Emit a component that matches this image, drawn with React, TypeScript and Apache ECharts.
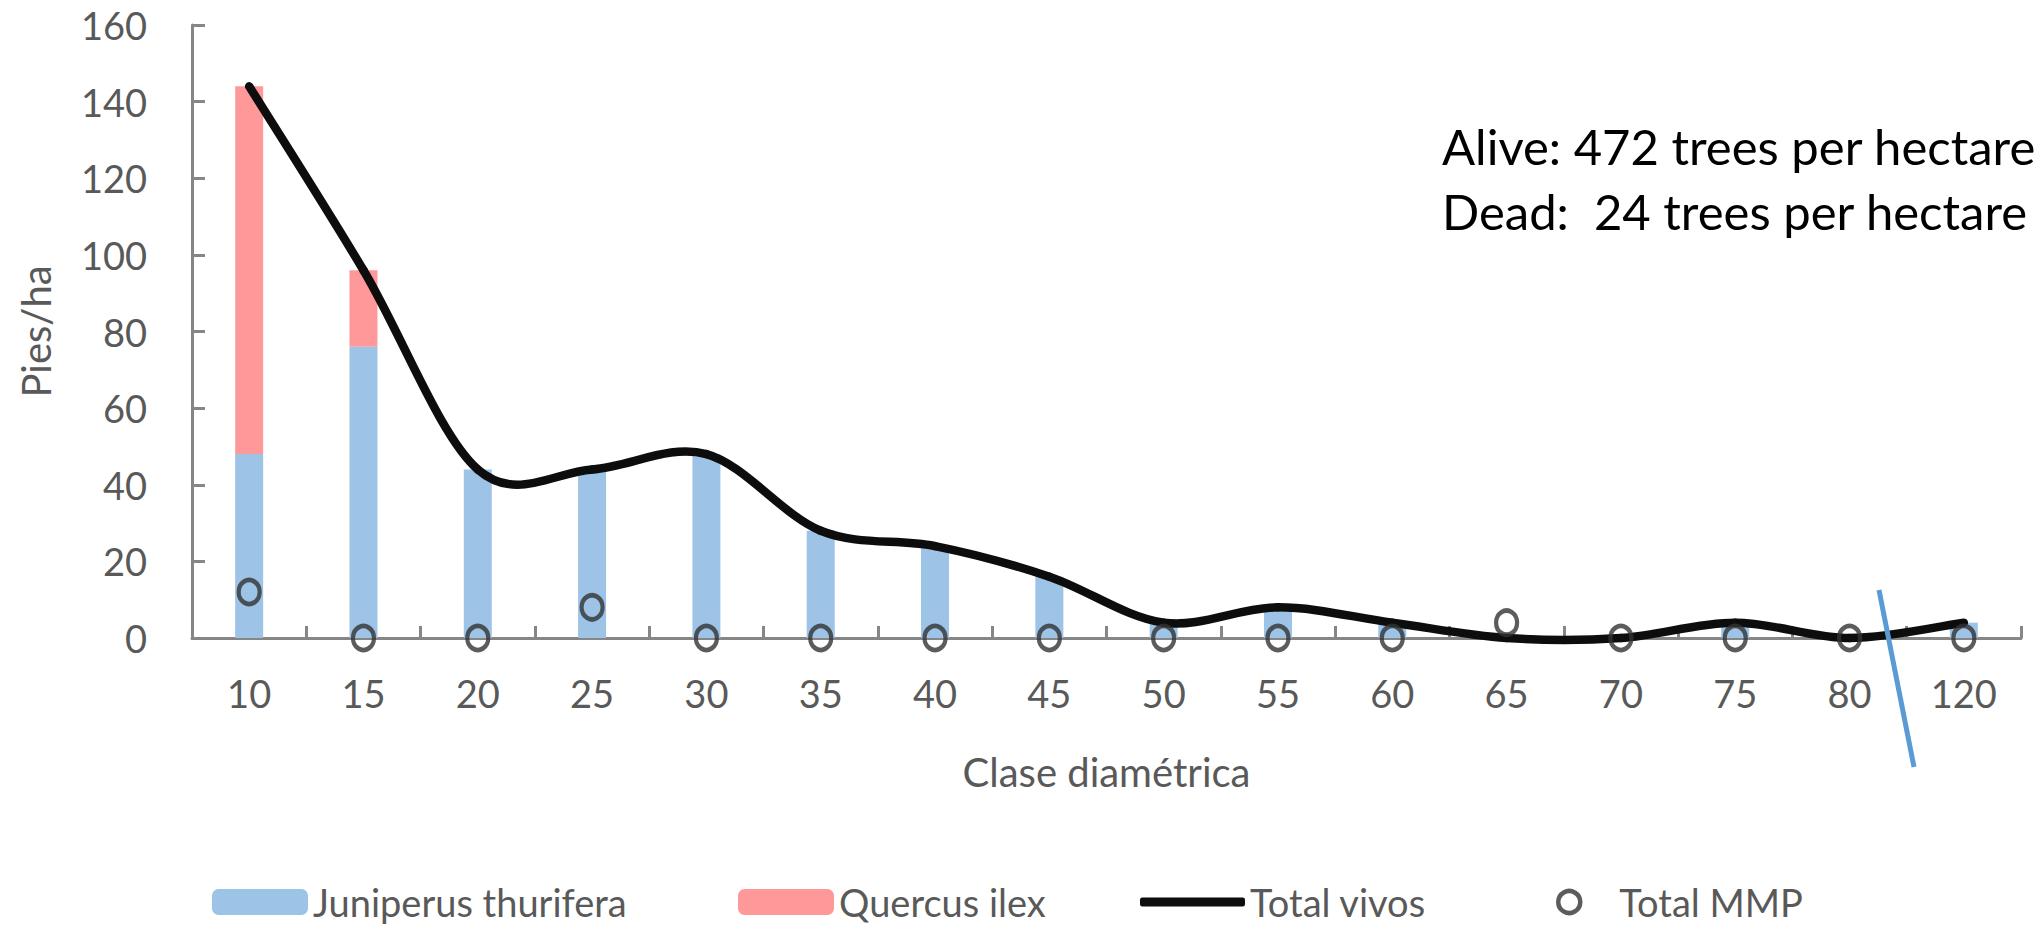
import React, { useEffect, useRef } from "react";
import * as echarts from "echarts";

const categories = ["10", "15", "20", "25", "30", "35", "40", "45", "50", "55", "60", "65", "70", "75", "80", "120"];
const juniperus = [48, 76, 44, 44, 48, 28, 24, 16, 4, 8, 4, 0, 0, 4, 0, 4];
const quercus = [96, 20, 0, 0, 0, 0, 0, 0, 0, 0, 0, 0, 0, 0, 0, 0];
const totalVivos = [144, 96, 44, 44, 48, 28, 24, 16, 4, 8, 4, 0, 0, 4, 0, 4];
const totalMMP = [12, 0, 0, 8, 0, 0, 0, 0, 0, 0, 0, 4, 0, 0, 0, 0];
const yTicks = { min: 0, max: 160, interval: 20 };
const annotations = ["Alive: 472 trees per hectare", "Dead:  24 trees per hectare"];

const FONT = "Lato";
const GREY_TEXT = "#595959";
const AXIS = "#868686";
const LINE_COLOR = "#0d0d0d";
const MMP_COLOR = "#333333";

// Excel-style smoothed line: Catmull-Rom segments converted to cubic Bezier, through the axes' scales
function renderSmoothSegment(params: any, api: any) {
  const i = params.dataIndex;
  const n = totalVivos.length;
  if (i >= n - 1) return null;
  const pt = (k: number) => {
    const kk = Math.max(0, Math.min(n - 1, k));
    return api.coord([kk, totalVivos[kk]]);
  };
  const p0 = pt(i - 1);
  const p1 = pt(i);
  const p2 = pt(i + 1);
  const p3 = pt(i + 2);
  return {
    type: "bezierCurve",
    shape: {
      x1: p1[0],
      y1: p1[1],
      x2: p2[0],
      y2: p2[1],
      cpx1: p1[0] + (p2[0] - p0[0]) / 6,
      cpy1: p1[1] + (p2[1] - p0[1]) / 6,
      cpx2: p2[0] - (p3[0] - p1[0]) / 6,
      cpy2: p2[1] - (p3[1] - p1[1]) / 6,
    },
    style: { stroke: LINE_COLOR, lineWidth: 8.5, fill: "none", lineCap: "round" },
  };
}

export default function App() {
  const ref = useRef<HTMLDivElement>(null);
  useEffect(() => {
    if (!ref.current) return;
    const chart = echarts.init(ref.current, null, { renderer: "svg" });
    const legendBase = {
      orient: "horizontal",
      top: 882,
      padding: 0,
      itemGap: 0,
      selectedMode: false,
      textStyle: { color: GREY_TEXT, fontSize: 38, fontFamily: FONT, lineHeight: 40 },
    };
    chart.setOption({
      animation: false,
      backgroundColor: "#ffffff",
      textStyle: { fontFamily: FONT },
      grid: { left: 192, right: 22, top: 25, bottom: 287, containLabel: false },
      xAxis: {
        type: "category",
        data: categories,
        name: "Clase diamétrica",
        nameLocation: "middle",
        nameGap: 114,
        nameTextStyle: { color: GREY_TEXT, fontSize: 40, fontFamily: FONT },
        axisLine: { lineStyle: { color: AXIS, width: 3 } },
        axisTick: { show: true, inside: true, length: 12, lineStyle: { color: AXIS, width: 3 } },
        axisLabel: { color: GREY_TEXT, fontSize: 38, fontFamily: FONT, margin: 36 },
        splitLine: { show: false },
      },
      yAxis: {
        type: "value",
        min: yTicks.min,
        max: yTicks.max,
        interval: yTicks.interval,
        name: "Pies/ha",
        nameLocation: "middle",
        nameGap: 136,
        nameRotate: 90,
        nameTextStyle: { color: GREY_TEXT, fontSize: 40, fontFamily: FONT },
        axisLine: { show: true, lineStyle: { color: AXIS, width: 3 } },
        axisTick: { show: true, inside: true, length: 13, lineStyle: { color: AXIS, width: 3 } },
        axisLabel: { color: GREY_TEXT, fontSize: 38, fontFamily: FONT, margin: 45 },
        splitLine: { show: false },
      },
      legend: [
        { ...legendBase, left: 212, itemWidth: 96, itemHeight: 26, data: ["Juniperus thurifera"] },
        { ...legendBase, left: 738, itemWidth: 96, itemHeight: 26, data: ["Quercus ilex"] },
        { ...legendBase, left: 1140, itemWidth: 105, itemHeight: 9, icon: "roundRect", data: ["Total vivos"] },
        {
          ...legendBase,
          left: 1556,
          itemWidth: 22,
          itemHeight: 22,
          icon: "circle",
          itemStyle: { color: "rgba(255,255,255,0)", borderColor: MMP_COLOR, borderWidth: 4.5 },
          data: ["Total MMP"],
          textStyle: { ...legendBase.textStyle, padding: [0, 0, 0, 34] },
        },
      ],
      series: [
        {
          name: "Juniperus thurifera",
          type: "bar",
          stack: "vivos",
          barWidth: 28,
          data: juniperus,
          itemStyle: { color: "#9dc3e6" },
          z: 1,
        },
        {
          name: "Quercus ilex",
          type: "bar",
          stack: "vivos",
          barWidth: 28,
          data: quercus,
          itemStyle: { color: "#ff9999" },
          z: 1,
        },
        {
          name: "Total vivos",
          type: "custom",
          data: totalVivos.map((v, i) => [i, v]),
          encode: { x: 0, y: 1 },
          renderItem: renderSmoothSegment,
          itemStyle: { color: LINE_COLOR },
          clip: false,
          z: 3,
        },
        {
          name: "Total MMP",
          type: "scatter",
          data: totalMMP,
          symbol: "circle",
          symbolSize: [21, 24],
          itemStyle: { color: "rgba(255,255,255,0)", borderColor: MMP_COLOR, borderWidth: 4.5 },
          z: 4,
        },
      ],
      graphic: [
        {
          type: "text",
          left: 1442,
          top: 121,
          style: { text: annotations[0], fill: "#000000", fontSize: 49, fontFamily: FONT },
        },
        {
          type: "text",
          left: 1442,
          top: 186,
          style: { text: annotations[1], fill: "#000000", fontSize: 49, fontFamily: FONT },
        },
        {
          type: "line",
          shape: { x1: 1879, y1: 590, x2: 1914, y2: 767 },
          style: { stroke: "#5b9bd5", lineWidth: 5 },
          z: 10,
        },
      ],
    });
    return () => chart.dispose();
  }, []);
  return (
    <div
      ref={ref}
      style={{ position: "fixed", left: 0, top: 0, width: 2043, height: 925, background: "#fff" }}
    />
  );
}
